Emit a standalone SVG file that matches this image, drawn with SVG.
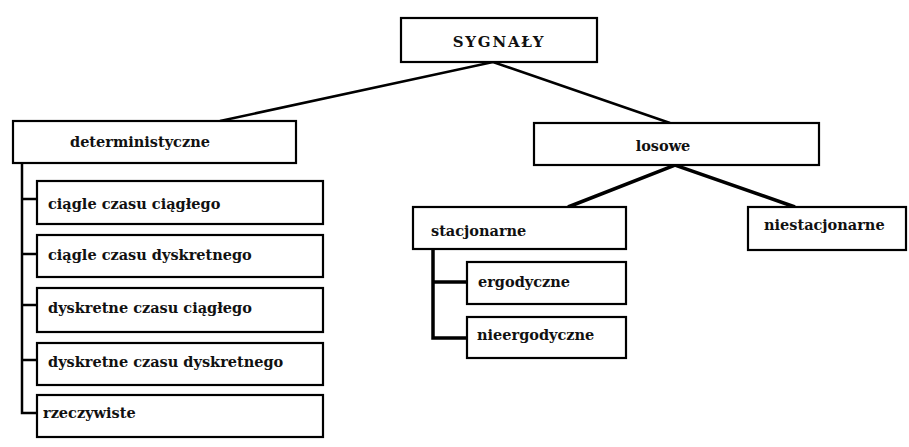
<svg xmlns="http://www.w3.org/2000/svg" width="909" height="447" viewBox="0 0 909 447">
<style>
.box{fill:#fff;stroke:#000;stroke-width:2.2}
.t{font-family:'DejaVu Serif',serif;font-weight:bold;font-size:14.5px;fill:#111}
.big{font-size:15px;letter-spacing:1.8px}
.c{fill:none;stroke:#000;stroke-width:2.5}
.ct{fill:none;stroke:#000;stroke-width:3.5}
</style>
<rect width="909" height="447" fill="#fff"/>
<g id="connectors">
<polyline class="c" points="220,121 493,62 670,123"/>
<polyline class="ct" points="568,207 675,165 795,207"/>
<polyline class="c" points="37,199 22,199 22,163 22,413 37,413"/>
<line class="c" x1="22" y1="254" x2="37" y2="254"/>
<line class="c" x1="22" y1="305" x2="37" y2="305"/>
<line class="c" x1="22" y1="360" x2="37" y2="360"/>
<polyline class="ct" points="433,249 433,338 467,338"/>
<line class="ct" x1="433" y1="282" x2="467" y2="282"/>
</g>
<g id="sygnaly"><rect class="box" x="401" y="18" width="196" height="44"/><text class="t big" x="499" y="47" text-anchor="middle">SYGNAŁY</text></g>
<g id="deterministyczne"><rect class="box" x="13" y="121" width="283" height="42"/><text class="t" x="70" y="147">deterministyczne</text></g>
<g id="n1"><rect class="box" x="37" y="181" width="286" height="43"/><text class="t" x="48" y="209">ciągle czasu ciągłego</text></g>
<g id="n2"><rect class="box" x="37" y="235" width="286" height="42"/><text class="t" x="48" y="260">ciągle czasu dyskretnego</text></g>
<g id="n3"><rect class="box" x="37" y="288" width="286" height="44"/><text class="t" x="48" y="313">dyskretne czasu ciągłego</text></g>
<g id="n4"><rect class="box" x="37" y="343" width="286" height="42"/><text class="t" x="48" y="367">dyskretne czasu dyskretnego</text></g>
<g id="n5"><rect class="box" x="37" y="395" width="286" height="42"/><text class="t" x="43" y="418">rzeczywiste</text></g>
<g id="losowe"><rect class="box" x="534" y="123" width="285" height="42"/><text class="t" x="663" y="151" text-anchor="middle">losowe</text></g>
<g id="stacjonarne"><rect class="box" x="413" y="207" width="213" height="42"/><text class="t" x="431" y="236">stacjonarne</text></g>
<g id="niestacjonarne"><rect class="box" x="748" y="207" width="158" height="43"/><text class="t" x="764" y="230">niestacjonarne</text></g>
<g id="ergodyczne"><rect class="box" x="467" y="262" width="159" height="42"/><text class="t" x="478" y="287">ergodyczne</text></g>
<g id="nieergodyczne"><rect class="box" x="467" y="317" width="159" height="41"/><text class="t" x="477" y="340">nieergodyczne</text></g>
</svg>
